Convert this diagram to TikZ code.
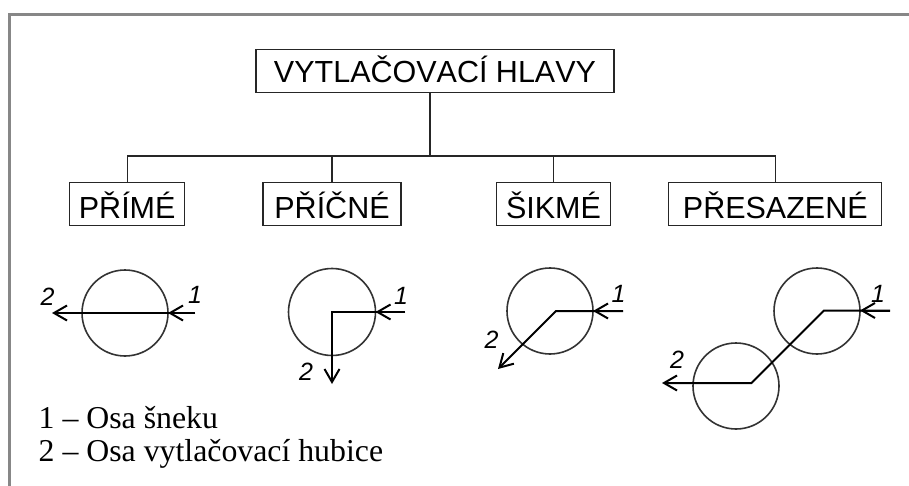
\documentclass[tikz,border=0pt]{standalone}
\usepackage{fontspec}
\setmainfont{Liberation Serif}
\newfontfamily\boxfont{Liberation Sans}[Kerning=Off]
\newfontfamily\numfont{Liberation Sans}
\usetikzlibrary{arrows.meta}
\begin{document}
\begin{tikzpicture}[x=1pt,y=-1pt,
  >={Straight Barb[length=13pt,width=15pt]},
  box/.style={draw=black!85, line width=1.3pt, inner sep=0pt,
    minimum height=42.5pt, text height=28.6pt, text depth=0pt,
    font=\boxfont\fontsize{30.5}{30.5}\selectfont},
  link/.style={draw=black!85, line width=1.3pt},
  ring/.style={draw=black!80, line width=1.6pt},
  axis/.style={draw=black, line width=2pt, line join=miter},
  num/.style={inner sep=0pt, font=\numfont\itshape\fontsize{25}{25}\selectfont},
  legend/.style={inner sep=0pt, anchor=base west, font=\fontsize{31.8}{33}\selectfont}
]
\useasboundingbox (0,0) rectangle (909,486);
\fill[white] (0,0) rectangle (909,486);

% outer frame (top and left edges)
\draw[draw=black!47, line width=2.8pt] (9.5,486) -- (9.5,14.7) -- (909,14.7);

% classification tree
\node[box, minimum width=358pt, text height=23.2pt] (top) at (435,71) {VYTLAČOVACÍ HLAVY};
\node[box, minimum width=115pt] (b1) at (127.2,204) {PŘÍMÉ};
\node[box, minimum width=138pt] (b2) at (332,204) {PŘÍČNÉ};
\node[box, minimum width=114pt] (b3) at (553.5,204) {ŠIKMÉ};
\node[box, minimum width=213pt] (b4) at (775.3,204) {PŘESAZENÉ};

\coordinate (hub) at (430,156);
\draw[link] (hub |- top.south) -- (hub);
\draw[link] (hub) -| (b1.north);
\draw[link] (hub) -| (b4.north);
\draw[link] (b2.north |- hub) -- (b2.north);
\draw[link] (b3.north |- hub) -- (b3.north);

% straight head
\draw[ring] (125,313) circle[radius=43pt];
\draw[axis,->] (195,313) -- (168,313);
\draw[axis,->] (195,313) -- (52,313);
\node[num] at (195,295) {1};
\node[num] at (47.5,297) {2};

% cross head
\draw[ring] (332,312) circle[radius=43.5pt];
\draw[axis,->] (405,312) -- (375.5,312);
\draw[axis,->] (405,312) -- (332,312) -- (332,384);
\node[num] at (401,295.5) {1};
\node[num] at (306,371.5) {2};

% oblique head
\draw[ring] (550,311) circle[radius=43pt];
\draw[axis,->] (623,311) -- (593,311);
\draw[axis,->] (623,311) -- (556,311) -- (498,369);
\node[num] at (618.5,294) {1};
\node[num] at (491.5,340) {2};

% offset head
\draw[ring] (817,311) circle[radius=43pt];
\draw[ring] (736,386) circle[radius=43pt];
\draw[axis,->] (890,310.5) -- (860,310.5);
\draw[axis,->] (890,310.5) -- (824,310.5) -- (751.5,383) -- (662,383);
\node[num] at (878,294) {1};
\node[num] at (677,360) {2};

% legend
\node[legend] (l1) at (38.5,428.5) {1 – Osa šneku};
\node[legend] (l2) at (38.5,461.7) {2 – Osa vytlačovací hubice};
\end{tikzpicture}
\end{document}
